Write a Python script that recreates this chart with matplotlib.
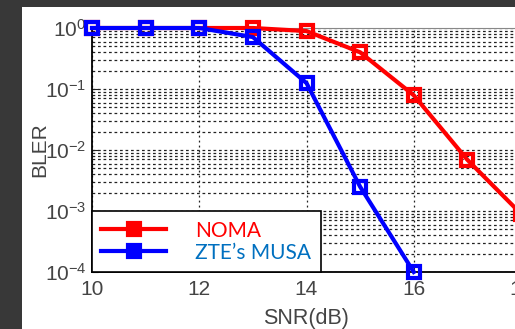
import numpy as np
import matplotlib
matplotlib.use('Agg')
import matplotlib.pyplot as plt
from matplotlib.patches import Rectangle

snr = [10, 11, 12, 13, 14, 15, 16, 17, 18]
bler_noma = [1.0, 1.0, 1.0, 1.0, 0.89, 0.40, 0.079, 0.0069, 0.0009]
snr_musa = [10, 11, 12, 13, 14, 15, 16]
bler_musa = [1.0, 1.0, 1.0, 0.71, 0.125, 0.0025, 0.0001]
xticks = [10, 12, 14, 16, 18]
yticks = [1e-4, 1e-3, 1e-2, 1e-1, 1e0]
ytick_labels = ['$\\mathregular{10^{-4}}$', '$\\mathregular{10^{-3}}$',
                '$\\mathregular{10^{-2}}$', '$\\mathregular{10^{-1}}$',
                '$\\mathregular{10^{0}}$']

plt.rcParams['font.family'] = ['Liberation Sans', 'DejaVu Sans']
plt.rcParams['mathtext.fontset'] = 'custom'
plt.rcParams['mathtext.rm'] = 'Liberation Sans'

fig = plt.figure(figsize=(5.15, 3.29), dpi=100)
fig.patch.set_facecolor('#383838')
# white slide area behind the plot
fig.add_artist(Rectangle((22 / 515, 0), 1, 1 - 7 / 329, transform=fig.transFigure,
                         facecolor='white', edgecolor='none', zorder=-5))

ax = fig.add_axes([92 / 515, 57 / 329, 429 / 515, 244 / 329])
ax.set_facecolor('white')
ax.set_yscale('log')
ax.set_xlim(10, 18)
ax.set_ylim(1e-4, 1)

grid_style = dict(color='#222222', linestyle=(0, (2.2, 2.2)), linewidth=0.9)
ax.yaxis.grid(True, which='major', **grid_style)
ax.yaxis.grid(True, which='minor', **grid_style)
ax.xaxis.grid(True, which='major', color='#222222', linestyle=(0, (1.5, 2.5)), linewidth=0.9)

ax.plot(snr, bler_noma, color='#ff0000', lw=3, marker='s', ms=9, mfc='none',
        mew=3, clip_on=False, zorder=3, label='NOMA')
ax.plot(snr_musa, bler_musa, color='#0000ff', lw=3, marker='s', ms=9, mfc='none',
        mew=3, clip_on=False, zorder=4, label='ZTE\u2019s MUSA')

ax.set_xticks(xticks)
ax.set_yticks(yticks)
ax.set_yticklabels(ytick_labels)
ax.tick_params(axis='both', which='both', direction='in', labelsize=15,
               labelcolor='#444444', color='#222222', length=4)
ax.tick_params(axis='y', which='minor', length=0)
ax.tick_params(axis='x', pad=6)
ax.tick_params(axis='y', pad=4)

for s in ['left', 'bottom']:
    ax.spines[s].set_color('black')
    ax.spines[s].set_linewidth(1.3)
ax.spines['top'].set_color('#888888')
ax.spines['right'].set_color('#888888')

ax.set_xlabel('SNR(dB)', fontsize=15.5, color='#444444', labelpad=6)
ax.set_ylabel('BLER', fontsize=15, color='#444444', labelpad=-3)

leg = ax.legend(loc='lower left', bbox_to_anchor=(0, 0), borderaxespad=0,
                fancybox=False, framealpha=1, edgecolor='black',
                handlelength=3.1, handletextpad=1.4, borderpad=0.45,
                labelspacing=0.1,
                prop={'family': ['Lato', 'DejaVu Sans'], 'size': 15})
leg.get_frame().set_linewidth(1.2)
for txt, c in zip(leg.get_texts(), ['#ff0000', '#0070c0']):
    txt.set_color(c)
for h in leg.legend_handles:
    h.set_markerfacecolor(h.get_color())

fig.savefig('out.png', dpi=100, facecolor=fig.get_facecolor())
